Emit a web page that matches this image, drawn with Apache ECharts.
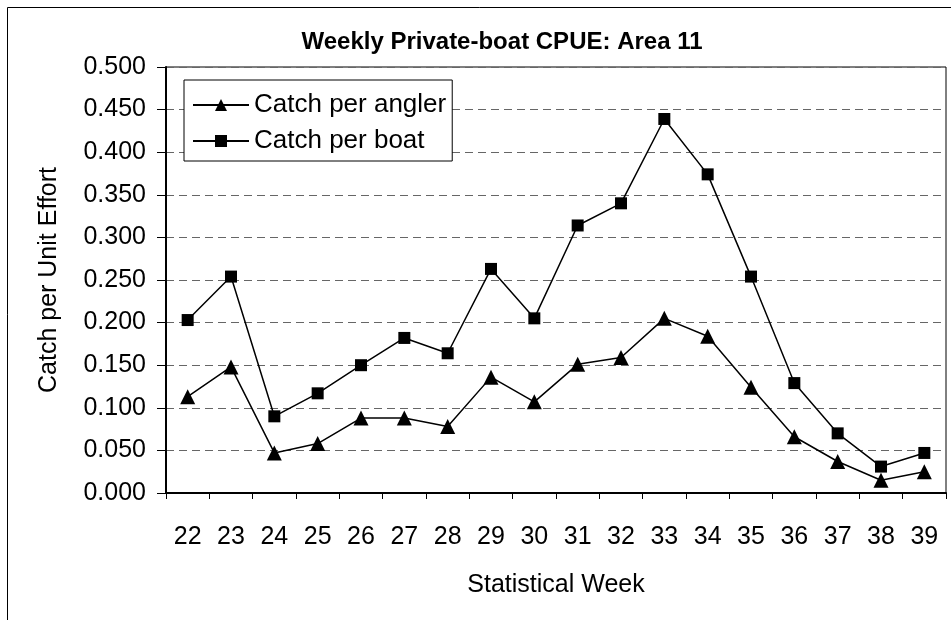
<!DOCTYPE html>
<html>
<head>
<meta charset="utf-8">
<script src="https://cdn.jsdelivr.net/npm/echarts@6/dist/echarts.min.js"></script>
<style>
  html, body { margin: 0; padding: 0; background: #fff; }
  #chart { width: 951px; height: 620px; }
</style>
</head>
<body>
<div id="chart"></div>
<script>
// statistical weeks
const weeks = ['22', '23', '24', '25', '26', '27', '28', '29', '30', '31', '32', '33', '34', '35', '36', '37', '38', '39']
const catchPerAngler = [0.113, 0.148, 0.047, 0.058, 0.088, 0.088, 0.078, 0.136, 0.107, 0.151, 0.159, 0.205, 0.184, 0.124, 0.066, 0.037, 0.015, 0.025]
const catchPerBoat = [0.203, 0.254, 0.090, 0.117, 0.150, 0.182, 0.164, 0.263, 0.205, 0.314, 0.340, 0.439, 0.374, 0.254, 0.129, 0.070, 0.031, 0.047]

const chart = echarts.init(document.getElementById('chart'))
const font = 'Arial, "Liberation Sans", sans-serif'

chart.setOption({
  animation: false,
  textStyle: { fontFamily: font },
  title: {
    text: 'Weekly Private-boat CPUE: Area 11',
    left: 497,
    textAlign: 'center',
    top: 25,
    textStyle: { fontSize: 24, fontWeight: 'bold', color: '#000', fontFamily: font }
  },
  graphic: [{
    type: 'rect',
    shape: { x: 7.5, y: 7.5, width: 1000, height: 700 },
    style: { fill: null, stroke: '#000', lineWidth: 1 },
    silent: true
  }],
  legend: {
    left: 184,
    top: 80,
    orient: 'vertical',
    backgroundColor: '#fff',
    borderColor: '#000',
    borderWidth: 1,
    padding: [12, 6, 7, 8],
    itemGap: 10,
    itemWidth: 56,
    itemHeight: 15,
    textStyle: { fontSize: 26, color: '#000', fontFamily: font },
    data: ['Catch per angler', 'Catch per boat']
  },
  grid: {
    left: 166,
    top: 67,
    width: 780,
    height: 426,
    show: true,
    borderColor: '#000',
    borderWidth: 1
  },
  xAxis: {
    type: 'category',
    data: weeks,
    boundaryGap: true,
    name: 'Statistical Week',
    nameLocation: 'middle',
    nameGap: 80,
    nameTextStyle: { fontSize: 25, color: '#000', fontFamily: font },
    axisLine: { lineStyle: { color: '#000', width: 2 } },
    axisTick: { show: true, length: 6, lineStyle: { color: '#000' } },
    axisLabel: { fontSize: 25, color: '#000', margin: 32, fontFamily: font },
    splitLine: { show: false }
  },
  yAxis: {
    type: 'value',
    min: 0,
    max: 0.5,
    interval: 0.05,
    name: 'Catch per Unit Effort',
    nameLocation: 'middle',
    nameGap: 104,
    nameTextStyle: { fontSize: 25, color: '#000', fontFamily: font },
    axisLine: { show: true, lineStyle: { color: '#000', width: 2 } },
    axisTick: { show: true, length: 9, inside: false, lineStyle: { color: '#000' } },
    axisLabel: {
      fontSize: 25,
      color: '#000',
      margin: 20,
      fontFamily: font,
      formatter: v => v.toFixed(3)
    },
    splitLine: { show: true, lineStyle: { color: '#666', type: [8, 5], width: 1 } }
  },
  series: [
    {
      name: 'Catch per angler',
      type: 'line',
      data: catchPerAngler,
      symbol: 'triangle',
      symbolSize: 15,
      lineStyle: { color: '#000', width: 1.5 },
      itemStyle: { color: '#000' }
    },
    {
      name: 'Catch per boat',
      type: 'line',
      data: catchPerBoat,
      symbol: 'rect',
      symbolSize: 12,
      lineStyle: { color: '#000', width: 1.5 },
      itemStyle: { color: '#000' }
    }
  ]
})
</script>
</body>
</html>
